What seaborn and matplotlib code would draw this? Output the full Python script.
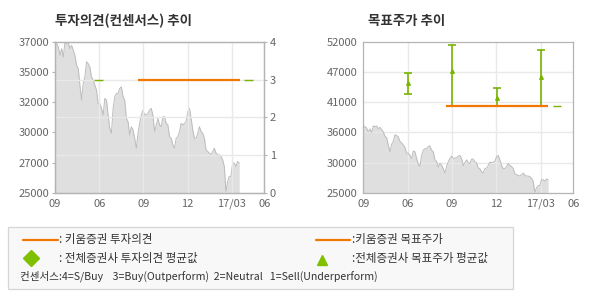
import numpy as np
import pandas as pd
import matplotlib
matplotlib.use("Agg")
import matplotlib.pyplot as plt
import seaborn as sns
from matplotlib.lines import Line2D
from matplotlib.patches import Rectangle

# ---------------- data ----------------
price = [36970, 36840, 36580, 35920, 36450, 35790, 36970, 36840, 36970, 36450,
         36710, 36320, 35920, 35130, 34870, 33550, 32370, 33680, 34210, 35400,
         35260, 35000, 34210, 33950, 33550, 33160, 32100, 32100, 31710, 31180,
         32500, 32370, 31180, 30130, 29740, 31710, 32630, 32900, 32900, 33290,
         33420, 32630, 32370, 30920, 30660, 29610, 30260, 30000, 29340, 28550,
         29740, 30530, 31180, 31580, 31180,
         31240, 31320, 31580, 31710, 31180, 29870, 30400, 30920, 30400, 30260,
         31050, 31050, 30530, 30400, 29470, 29340, 28820, 28550, 29340, 29470,
         29870, 30530, 30400, 30530, 30660, 31450, 31710, 30920, 30000, 29340,
         29340, 29740, 30260, 29870, 29740, 29340, 28420, 28290, 28160, 28030,
         28290, 28550, 28160, 28030, 28030, 27900, 27630, 27110, 25130, 25920,
         26320, 26320, 27370, 27370, 27110, 27500, 27370]
price_start_month = 0.0
price_end_month = 12.5

x_tick_pos = [0, 3, 6, 9, 12, 14.2]
x_tick_labels = ["09", "06", "09", "12", "17/03", "06"]

left_price_labels = ["25000", "27000", "30000", "32000", "35000", "37000"]
left_price_min, left_price_max = 25000, 37000
opinion_ticks = [0, 1, 2, 3, 4]

right_price_labels = ["25000", "30000", "36000", "41000", "47000", "52000"]
right_price_min, right_price_max = 25000, 52000

# Kiwoom investment opinion (3 = Buy)
kiwoom_opinion = 3
kiwoom_opinion_from, kiwoom_opinion_to = 5.6, 12.55
# consensus average opinion (short dashes)
cons_opinion = [3, 3]
cons_opinion_from = [2.67, 12.83]
cons_opinion_to = [3.24, 13.42]

# target price
kiwoom_target = 40500
kiwoom_target_from, kiwoom_target_to = 5.58, 12.52
tp_month = [3, 6, 9.05, 12]
tp_high = [46500, 51500, 43700, 50500]
tp_low = [42600, 40500, 40500, 40500]
tp_avg = [44600, 46700, 42000, 45700]
cons_target = 40500
cons_target_from, cons_target_to = 12.8, 13.4

# ---------------- style ----------------
sns.set_theme(style="white")
plt.rcParams['font.family'] = ['Noto Sans CJK KR', 'DejaVu Sans']

ORANGE = "#f07800"
GREEN = "#78b400"
FILL = "#dfdfdf"
PLINE = "#bcbcbc"
GRID = "#e9e9e9"
SPINE = "#b4b4b4"
TICKC = "#666666"
TITLEC = "#333333"

W, H = 590, 300
fig = plt.figure(figsize=(W / 100, H / 100), dpi=100)


def box(x0, y0, x1, y1):
    return [x0 / W, 1 - y1 / H, (x1 - x0) / W, (y1 - y0) / H]


def fx(x):
    return x / W


def fy(y):
    return 1 - y / H


df = pd.DataFrame({
    "month": np.linspace(price_start_month, price_end_month, len(price)),
    "price": price,
})


def style_axes(ax):
    for s in ax.spines.values():
        s.set_color(SPINE)
        s.set_linewidth(0.9)
    ax.tick_params(axis="both", which="both", direction="out", length=2.5,
                   width=0.8, color=SPINE, labelcolor=TICKC, labelsize=8, pad=1.5)
    ax.set_xlabel("")
    ax.set_ylabel("")


# ---------------- left chart ----------------
ax1 = fig.add_axes(box(55, 41.7, 264.3, 193))
ax1.fill_between(df["month"], left_price_min, df["price"], color=FILL, lw=0, zorder=1)
sns.lineplot(data=df, x="month", y="price", ax=ax1, color=PLINE, lw=0.7, zorder=2)
ax1.set_xlim(0, 14.2)
ax1.set_ylim(left_price_min, left_price_max)
ax1.set_yticks(np.linspace(left_price_min, left_price_max, len(left_price_labels)))
ax1.set_yticklabels(left_price_labels)
ax1.set_xticks(x_tick_pos)
ax1.set_xticklabels(x_tick_labels)
ax1.grid(False)
style_axes(ax1)
ax1.tick_params(axis="y", right=False)

ax1t = ax1.twinx()
ax1t.set_ylim(0, 4)
ax1t.set_yticks(opinion_ticks)
ax1t.set_yticklabels([str(v) for v in opinion_ticks])
for v in opinion_ticks[1:-1]:
    ax1t.axhline(v, color=GRID, lw=1.0, zorder=1)
for v in x_tick_pos[1:-1]:
    ax1t.axvline(v, color=GRID, lw=1.0, zorder=1)
ax1t.hlines([kiwoom_opinion], kiwoom_opinion_from, kiwoom_opinion_to,
            color=ORANGE, lw=1.6, zorder=5)
ax1t.hlines(cons_opinion, cons_opinion_from, cons_opinion_to, color=GREEN, lw=1.0, zorder=5)
ax1t.grid(False)
style_axes(ax1t)
ax1t.tick_params(axis="y", left=False)

fig.text(fx(55), fy(20.5), "투자의견(컨센서스) 추이", fontsize=9.7, fontweight="bold",
         color=TITLEC, ha="left", va="center")

# ---------------- right chart ----------------
ax2 = fig.add_axes(box(363.3, 41.7, 573.3, 193))
ax2.fill_between(df["month"], right_price_min, df["price"], color=FILL, lw=0, zorder=1)
for v in np.linspace(right_price_min, right_price_max, len(right_price_labels))[1:-1]:
    ax2.axhline(v, color=GRID, lw=1.0, zorder=1.5)
for v in x_tick_pos[1:-1]:
    ax2.axvline(v, color=GRID, lw=1.0, zorder=1.5)
sns.lineplot(data=df, x="month", y="price", ax=ax2, color=PLINE, lw=0.7, zorder=2)
ax2.hlines([kiwoom_target], kiwoom_target_from, kiwoom_target_to, color=ORANGE, lw=1.6, zorder=6)
ax2.hlines([cons_target], cons_target_from, cons_target_to, color=GREEN, lw=1.0, zorder=5)
tp_avg_a = np.array(tp_avg)
ax2.errorbar(tp_month, tp_avg,
             yerr=[tp_avg_a - np.array(tp_low), np.array(tp_high) - tp_avg_a],
             fmt="^", color=GREEN, ms=2.6, capsize=3, elinewidth=1.2, capthick=1.2,
             zorder=5)
ax2.set_xlim(0, 14.2)
ax2.set_ylim(right_price_min, right_price_max)
ax2.set_yticks(np.linspace(right_price_min, right_price_max, len(right_price_labels)))
ax2.set_yticklabels(right_price_labels)
ax2.set_xticks(x_tick_pos)
ax2.set_xticklabels(x_tick_labels)
ax2.grid(False)
style_axes(ax2)

fig.text(fx(367.5), fy(20.5), "목표주가 추이", fontsize=9.7, fontweight="bold",
         color=TITLEC, ha="left", va="center")

# ---------------- legend box ----------------
fig.patches.append(Rectangle((fx(7.5), fy(289.3)), (513.3 - 7.5) / W, (289.3 - 227.3) / H,
                             transform=fig.transFigure, facecolor="#f8f8f8",
                             edgecolor="#d6d6d6", lw=0.9, zorder=0))
LTXT = "#333333"
fig.lines.append(Line2D([fx(22.7), fx(57.7)], [fy(240), fy(240)], transform=fig.transFigure,
                        color=ORANGE, lw=1.6))
fig.lines.append(Line2D([fx(315.7), fx(350)], [fy(240), fy(240)], transform=fig.transFigure,
                        color=ORANGE, lw=1.6))
fig.lines.append(Line2D([fx(30.7)], [fy(258.3)], transform=fig.transFigure, marker="D",
                        ms=8, color="#80c000", lw=0))
fig.lines.append(Line2D([fx(321.7)], [fy(259.5)], transform=fig.transFigure, marker="^",
                        ms=7, color="#80c000", lw=0))
fig.text(fx(59), fy(240), ": 키움증권 투자의견", fontsize=8.3, color=LTXT, ha="left", va="center")
fig.text(fx(59), fy(258.3), ": 전체증권사 투자의견 평균값", fontsize=8.3, color=LTXT,
         ha="left", va="center")
fig.text(fx(352), fy(240), ":키움증권 목표주가", fontsize=8.3, color=LTXT, ha="left", va="center")
fig.text(fx(352), fy(258.3), ":전체증권사 목표주가 평균값", fontsize=8.3, color=LTXT,
         ha="left", va="center")
fig.text(fx(20), fy(276.7),
         "컨센서스:4=S/Buy    3=Buy(Outperform)  2=Neutral   1=Sell(Underperform)",
         fontsize=7.6, color=LTXT, ha="left", va="center")

fig.savefig("out.png", dpi=100)
